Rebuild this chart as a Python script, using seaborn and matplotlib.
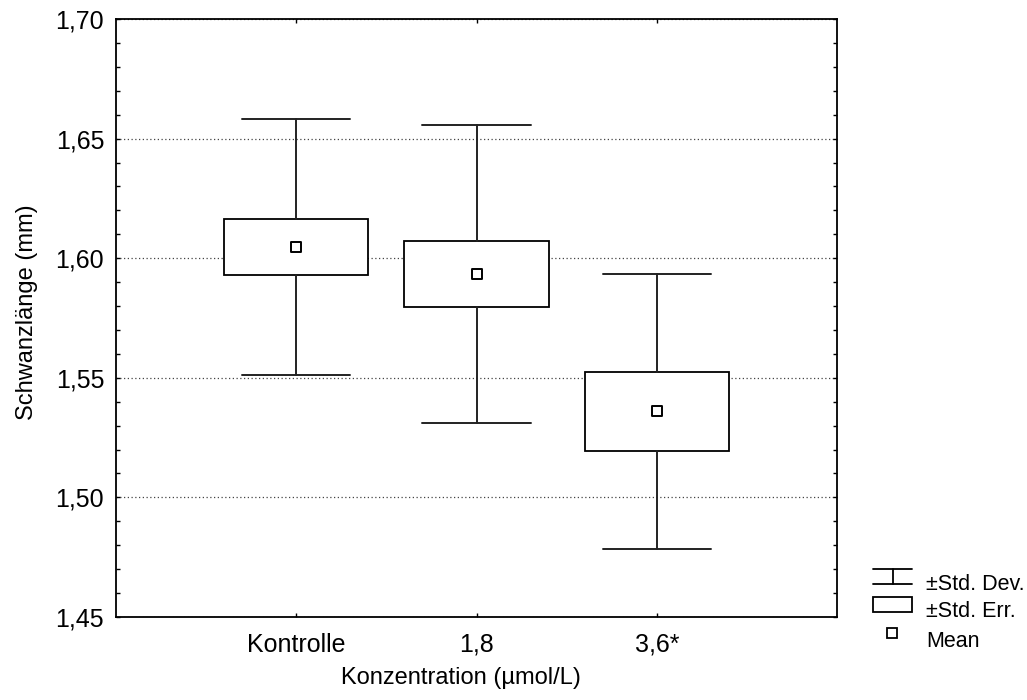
import matplotlib
matplotlib.use("Agg")
import matplotlib.pyplot as plt
import seaborn as sns
import numpy as np
from matplotlib.ticker import AutoMinorLocator
from matplotlib.lines import Line2D
from matplotlib.patches import Rectangle

sns.set_style("white")
plt.rcParams['font.family'] = ['Liberation Sans', 'DejaVu Sans']

# ---- data ----
categories = ['Kontrolle', '1,8', '3,6*']
means = [1.6047, 1.5933, 1.5360]
std_err = [0.0118, 0.0137, 0.0164]
std_dev = [0.0537, 0.0622, 0.0574]
y_ticks = [1.45, 1.50, 1.55, 1.60, 1.65, 1.70]
y_tick_labels = ['1,45', '1,50', '1,55', '1,60', '1,65', '1,70']
legend_labels = ['±Std. Dev.', '±Std. Err.', 'Mean']

W, H = 1027, 700
fig = plt.figure(figsize=(W / 100, H / 100), dpi=100)
ax = fig.add_axes([116 / W, 1 - 617 / H, (837 - 116) / W, (617 - 19) / H])

# mean markers (seaborn categorical axis)
sns.scatterplot(x=categories, y=means, marker='s', s=48, color='white',
                edgecolor='black', linewidth=1.4, zorder=6, ax=ax)

# ±SE boxes and ±SD whiskers
stats = []
for c, m, se, sd in zip(categories, means, std_err, std_dev):
    stats.append(dict(label=c, med=m, q1=m - se, q3=m + se,
                      whislo=m - sd, whishi=m + sd, fliers=[]))
pos = np.arange(len(categories))
ax.bxp(stats, positions=pos, widths=0.8, capwidths=0.6, showfliers=False,
       patch_artist=True,
       boxprops=dict(facecolor='white', edgecolor='black', linewidth=1.3),
       medianprops=dict(linewidth=0),
       whiskerprops=dict(color='#222222', linewidth=1.4),
       capprops=dict(color='#222222', linewidth=1.4),
       zorder=4)

ax.set_xlim(-1, 3)
ax.set_ylim(1.45, 1.70)
ax.set_xticks(pos)
ax.set_xticklabels(categories, fontsize=18)
ax.set_yticks(y_ticks)
ax.set_yticklabels(y_tick_labels, fontsize=18)
ax.yaxis.set_minor_locator(AutoMinorLocator(5))

ax.tick_params(axis='both', which='major', direction='in', length=3, width=1,
               color='black', top=True, right=True, left=True, bottom=True,
               labelcolor='black')
ax.tick_params(axis='x', which='major', pad=11.5)
ax.tick_params(axis='y', which='major', pad=8.5)
ax.tick_params(axis='y', which='minor', direction='in', length=3, width=1,
               color='black', left=True, right=True)

ax.yaxis.grid(True, linestyle=(0, (1, 2)), color='#444444', linewidth=0.9, zorder=0)
ax.xaxis.grid(False)
ax.set_axisbelow(True)
for sp in ax.spines.values():
    sp.set_color('black')
    sp.set_linewidth(1.3)

ax.set_xlabel('Konzentration (µmol/L)', fontsize=17, color='black')
ax.set_ylabel('Schwanzlänge (mm)', fontsize=17, color='black')
ax.xaxis.set_label_coords(0.4785, -0.084)
ax.yaxis.set_label_coords(-0.108, 0.51)

# ---- legend (drawn in figure pixels) ----
def fx(x):
    return x / W

def fy(y):
    return 1 - y / H

lw = 1.3
# cap symbol
fig.add_artist(Line2D([fx(873), fx(912)], [fy(569), fy(569)], color='black', lw=lw))
fig.add_artist(Line2D([fx(873), fx(912)], [fy(584), fy(584)], color='black', lw=lw))
fig.add_artist(Line2D([fx(893), fx(893)], [fy(569), fy(584)], color='black', lw=lw))
# box symbol
fig.add_artist(Rectangle((fx(873), fy(612)), fx(912) - fx(873), fy(597) - fy(612),
                         transform=fig.transFigure, facecolor='white',
                         edgecolor='black', lw=lw))
# mean symbol
fig.add_artist(Line2D([fx(892)], [fy(633)], marker='s', markersize=7,
                      markerfacecolor='white', markeredgecolor='black',
                      markeredgewidth=1.3, linestyle='none'))
for lab, yb in zip(legend_labels, [590, 617, 647]):
    fig.text(fx(926), fy(yb), lab, fontsize=15.5, va='baseline', ha='left', color='black')

fig.savefig('out.png', dpi=100)
